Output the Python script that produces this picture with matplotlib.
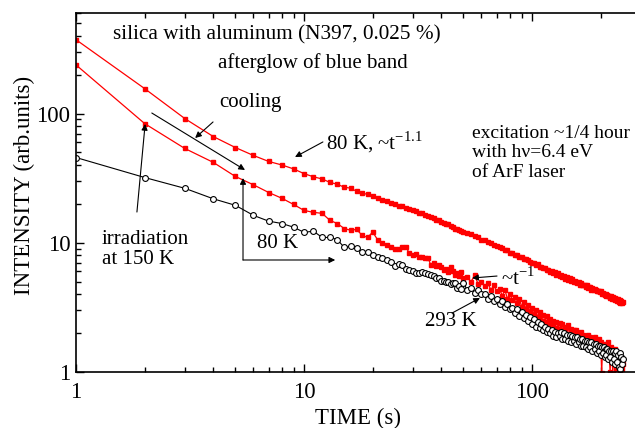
import matplotlib
matplotlib.use('Agg')
import matplotlib.pyplot as plt
from matplotlib.ticker import FuncFormatter, NullFormatter
import numpy as np

plt.rcParams['font.family'] = ['Liberation Serif', 'DejaVu Serif']
plt.rcParams['mathtext.fontset'] = 'custom'
plt.rcParams['mathtext.rm'] = 'Liberation Serif'

# time grid: every second up to 50 s, then every 2 s
t = np.concatenate([np.arange(1, 51), np.arange(52, 251, 2)])

# 80 K after cooling (upper red curve)
i_cool = [373, 156, 91.5, 66.4, 54.6, 47.4, 42.6, 40.0, 37.3, 34.3,
          32.4, 31.2, 29.3, 28.4, 26.9, 26.5, 25.0, 24.2, 23.7, 22.9,
          22.2, 21.4, 21.0, 20.3, 20.1, 19.4, 19.1, 18.5, 18.3, 17.8,
          17.6, 17.0, 16.9, 16.3, 16.2, 15.7, 15.6, 15.0, 14.9, 14.4,
          14.3, 13.9, 13.9, 13.4, 13.3, 12.9, 12.9, 12.5, 12.4, 12.2,
          11.9, 11.6, 11.2, 11.0, 10.6, 10.5, 10.1, 10.0, 9.65, 9.5,
          9.2, 9.1, 8.8, 8.75, 8.4, 8.4, 8.05, 8.05, 7.8, 7.75,
          7.55, 7.45, 7.3, 7.15, 7.0, 7.0, 6.75, 6.8, 6.5, 6.55,
          6.35, 6.4, 6.15, 6.2, 5.95, 6.05, 5.8, 5.9, 5.65, 5.8,
          5.55, 5.6, 5.45, 5.5, 5.25, 5.45, 5.15, 5.3, 5.05, 5.2,
          5.0, 5.05, 4.95, 4.9, 4.95, 4.75, 4.9, 4.7, 4.7, 4.75,
          4.55, 4.7, 4.5, 4.55, 4.55, 4.35, 4.5, 4.3, 4.4, 4.3,
          4.25, 4.25, 4.2, 4.15, 4.2, 4.05, 4.1, 4.05, 3.95, 4.05,
          3.9, 3.95, 3.85, 3.9, 3.75, 3.9, 3.7, 3.8, 3.65, 3.75,
          3.6, 3.7, 3.55, 3.65, 3.5, 3.6, 3.45, 3.55, 3.45, 3.5]

# irradiated at 150 K, measured at 80 K (lower red curve)
i_irr = [238, 83.7, 53.7, 41.9, 32.6, 28.1, 24.5, 22.1, 19.8, 17.8,
         17.2, 16.9, 14.9, 14.1, 12.9, 12.5, 12.7, 11.4, 11.0, 12.1,
         10.6, 9.9, 9.6, 9.2, 8.9, 9.0, 9.3, 9.2, 8.3, 8.0,
         8.2, 7.8, 7.7, 7.6, 7.6, 6.7, 7.0, 6.6, 6.7, 6.5,
         6.2, 6.3, 5.9, 6.5, 6.0, 5.6, 5.8, 5.5, 5.9, 5.3,
         5.4, 5.0, 5.6, 4.8, 5.0, 4.6, 4.9, 4.3, 4.7, 4.2,
         4.4, 3.9, 4.3, 3.7, 4.0, 3.6, 3.8, 3.4, 3.7, 3.2,
         3.5, 3.05, 3.3, 2.9, 3.15, 2.75, 3.0, 2.65, 2.9, 2.5,
         2.75, 2.45, 2.7, 2.35, 2.55, 2.3, 2.5, 2.2, 2.45, 2.15,
         2.4, 2.1, 2.35, 2.05, 2.25, 1.95, 2.3, 1.9, 2.15, 1.9,
         2.1, 1.85, 2.1, 1.8, 2.0, 1.75, 2.05, 1.7, 1.95, 1.7,
         1.9, 1.65, 1.95, 1.6, 1.85, 1.6, 1.8, 1.55, 1.85, 1.55,
         1.75, 1.5, 1.8, 1.45, 1.7, 0.98, 1.6, 1.35, 1.65, 1.4,
         1.6, 1.3, 1.7, 1.35, 1.0, 1.55, 1.3, 0.97, 1.45, 1.2,
         1.5, 1.05, 1.4, 1.15, 1.3, 1.1, 0.97, 1.25, 1.05, 1.15]

# 293 K (black open circles)
i_rt = [45.7, 32.0, 26.4, 21.9, 19.5, 16.3, 14.7, 14.1, 13.2, 12.05,
        12.3, 11.0, 11.0, 10.6, 9.2, 9.4, 9.07, 8.45, 8.45, 8.0,
        7.7, 7.6, 7.3, 7.07, 6.6, 6.9, 6.7, 6.25, 6.2, 6.0,
        5.8, 5.8, 5.9, 5.8, 5.7, 5.6, 5.5, 5.3, 5.3, 5.1,
        5.1, 5.0, 5.0, 4.8, 4.9, 4.87, 4.5, 4.6, 4.4, 4.9,
        4.3, 4.5, 4.1, 4.35, 4.0, 4.05, 3.7, 3.9, 3.55, 3.7,
        3.35, 3.55, 3.2, 3.35, 3.05, 3.15, 2.85, 3.05, 2.7, 2.9,
        2.6, 2.75, 2.5, 2.65, 2.35, 2.55, 2.25, 2.45, 2.2, 2.35,
        2.1, 2.25, 2.05, 2.15, 2.0, 2.1, 1.9, 2.05, 1.85, 2.0,
        1.9, 2.05, 1.8, 2.0, 1.8, 1.95, 1.75, 1.95, 1.7, 1.9,
        1.75, 1.85, 1.65, 1.85, 1.7, 1.8, 1.6, 1.8, 1.6, 1.75,
        1.55, 1.75, 1.5, 1.7, 1.55, 1.7, 1.45, 1.65, 1.5, 1.65,
        1.4, 1.6, 1.45, 1.6, 1.35, 1.55, 1.4, 1.55, 1.3, 1.5,
        1.35, 1.5, 1.25, 1.45, 1.3, 1.45, 1.2, 1.45, 1.25, 1.4,
        1.15, 1.45, 1.2, 1.35, 1.1, 1.4, 1.05, 1.3, 1.15, 1.25]

fig = plt.figure(figsize=(6.35, 4.28), dpi=100)
ax = fig.add_axes([0.1197, 0.1308, 0.8895, 0.8388])

ax.plot(t, i_cool, '-s', color='red', lw=0.9, ms=2.6, mec='red', mfc='red')
ax.plot(t, i_irr, '-s', color='red', lw=0.9, ms=2.6, mec='red', mfc='red')
ax.plot(t, i_rt, '-o', color='black', lw=0.8, ms=4.2, mec='black', mfc='white', mew=0.8)

ax.set_xscale('log')
ax.set_yscale('log')
ax.set_xlim(1, 300)
ax.set_ylim(1, 600)
fmt = FuncFormatter(lambda v, p: '%g' % v)
ax.xaxis.set_major_formatter(fmt)
ax.yaxis.set_major_formatter(fmt)
ax.xaxis.set_minor_formatter(NullFormatter())
ax.yaxis.set_minor_formatter(NullFormatter())
ax.tick_params(which='both', direction='in', top=True, right=False, width=1.0, labelsize=16.5)
ax.tick_params(which='major', length=6)
ax.tick_params(which='minor', length=3.5)
ax.tick_params(axis='x', pad=7)
ax.tick_params(axis='y', pad=4)
for s in ax.spines.values():
    s.set_linewidth(1.2)

ax.set_xlabel('TIME (s)', fontsize=16.5, labelpad=4)
ax.set_ylabel('INTENSITY (arb.units)', fontsize=16.5)
ax.yaxis.set_label_coords(-0.072, 0.52)

fs = 15
ax.text(1.453, 406, 'silica with aluminum (N397, 0.025 %)', fontsize=15.3, va='center')
ax.text(4.20, 246, 'afterglow of blue band', fontsize=fs, va='center')
ax.text(4.24, 121, 'cooling', fontsize=fs, va='center')
ax.text(12.5, 60.3, '80 K, ~t$^{-1.1}$', fontsize=fs, va='center')
ax.text(54.6, 82, 'excitation ~1/4 hour\nwith h\u03bd=6.4 eV\nof ArF laser', fontsize=14, va='top',
        linespacing=1.2)
ax.text(1.30, 12.6, 'irradiation\nat 150 K', fontsize=fs, va='top', linespacing=1.1)
ax.text(6.22, 9.96, '80 K', fontsize=fs, va='center')
ax.text(73.1, 5.34, '~t$^{-1}$', fontsize=fs, va='center')
ax.text(33.9, 2.44, '293 K', fontsize=fs, va='center')

arr = dict(arrowstyle='-|>', color='black', lw=0.8, mutation_scale=9, shrinkA=0, shrinkB=0)
ax.annotate('', xy=(3.33, 64.7), xytext=(3.99, 86.1), arrowprops=arr)
ax.annotate('', xy=(5.51, 36.6), xytext=(2.15, 101), arrowprops=arr)
ax.annotate('', xy=(9.13, 46.1), xytext=(12.1, 60.3), arrowprops=arr)
ax.annotate('', xy=(2.01, 83.1), xytext=(1.85, 17.3), arrowprops=arr)
ax.annotate('', xy=(5.40, 31.7), xytext=(5.40, 7.36), arrowprops=arr)
ax.annotate('', xy=(13.7, 7.36), xytext=(5.40, 7.36), arrowprops=arr)
ax.annotate('', xy=(54.6, 5.34), xytext=(70.2, 5.53), arrowprops=arr)
ax.annotate('', xy=(59.1, 3.74), xytext=(44.6, 2.86), arrowprops=arr)

fig.savefig('out.png', dpi=100)
